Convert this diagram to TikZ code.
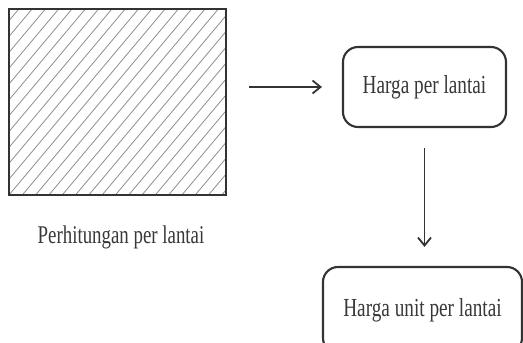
\documentclass[tikz,border=0pt]{standalone}
\usepackage{fontspec}
\setmainfont[FakeStretch=0.74]{Liberation Serif}
\usetikzlibrary{arrows.meta}
\definecolor{garis}{HTML}{333333}
\definecolor{arsir}{HTML}{8E8E8E}
\definecolor{tulisan}{HTML}{383838}

\begin{document}
\begin{tikzpicture}[x=1pt,y=1pt,
  kotak/.style={draw=garis, line width=2.1pt, rounded corners=15pt, text=tulisan,
    font=\fontsize{26}{30}\selectfont},
  panah/.style={draw=garis, line width=1.8pt, -{Straight Barb[length=8pt,width=13pt]}}]
\useasboundingbox (0,0) rectangle (523,343);
\node [draw=garis, line width=2.1pt, minimum width=217pt, minimum height=186pt,
  path picture={
    \foreach \i in {-13,...,17}
      \draw [arsir, line width=0.8pt]
        ([xshift=\i*13.3pt]path picture bounding box.south west) -- ++(50:270pt);
  }] (lantai) at (117.5,241) {};
\node [text=tulisan, font=\fontsize{25.5}{30}\selectfont] (judul) at (121,106) {Perhitungan per lantai};
\node [kotak, minimum width=163pt, minimum height=80pt] (harga) at (424.5,256) {Harga per lantai};
\node [kotak, minimum width=199pt, minimum height=86pt] (unit) at (422.5,33) {Harga unit per lantai};
\draw [panah, shorten <=22pt, shorten >=20pt] (lantai.east |- harga.west) -- (harga.west);
\draw [panah, shorten <=20pt, shorten >=19pt] (harga.south) -- (harga.south |- unit.north);

% Hatched floor block, then the two price boxes

\end{tikzpicture}
\end{document}
